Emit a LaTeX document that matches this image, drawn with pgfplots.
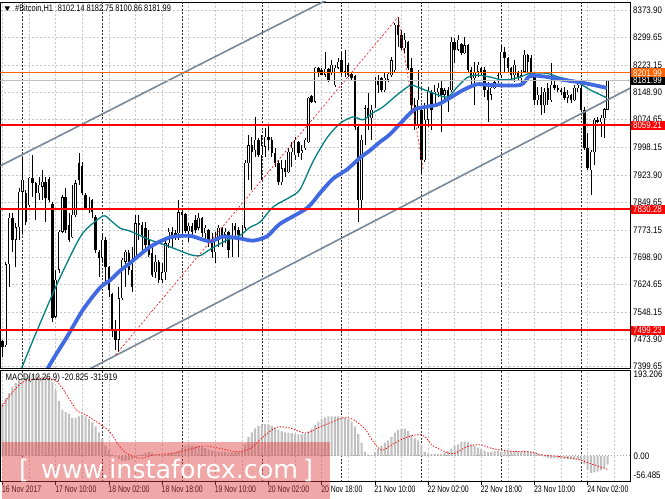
\documentclass[border=0pt]{standalone}
\usepackage{fontspec}
\setmainfont{Liberation Sans}
\newfontfamily\ttlfont[FakeStretch=0.78]{Liberation Sans}
\newfontfamily\macfont[FakeStretch=0.825]{Liberation Sans}
\newfontfamily\mtfont[FakeStretch=0.84]{Liberation Sans}
\newfontfamily\dtfont[FakeStretch=0.73]{Liberation Sans}
\newfontfamily\wmfont{DejaVu Sans}
\usepackage{pgfplots}
\usepackage{pgfplotstable}
\pgfplotsset{compat=1.18}
\definecolor{mtteal}{RGB}{0,128,128}
\definecolor{mtblue}{RGB}{65,105,225}
\definecolor{mtslate}{RGB}{119,136,153}
\definecolor{mtorange}{RGB}{255,99,0}
\definecolor{mtsilver}{RGB}{192,192,192}
\definecolor{mtpink}{RGB}{220,60,60}

\pgfplotstableread{
h o hi lo c
-6 7470 7473 7426 7454
-5 7459 7686 7454 7680
-4 7680 7820 7617 7806
-3 7806 7820 7713 7746
-2 7746 7792 7672 7781
-1 7781 7888 7746 7877
0 7877 7970 7765 7910
1 7874 7882 7787 7795
2 7841 7918 7836 7915
3 7915 7978 7863 7901
4 7901 7904 7800 7874
5 7874 7918 7855 7896
6 7891 7937 7855 7904
7 7904 7918 7795 7860
8 7912 7918 7850 7855
9 7842 7850 7522 7533
10 7536 7664 7533 7637
11 7664 7773 7656 7768
12 7768 7869 7765 7863
13 7863 7888 7765 7773
14 7787 7820 7740 7746
15 7754 7896 7751 7814
16 7814 7910 7808 7901
17 7956 7983 7896 7910
18 7948 7959 7869 7874
19 7869 7874 7828 7833
20 7833 7863 7820 7855
21 7855 7858 7806 7822
22 7809 7814 7710 7718
23 7713 7718 7645 7697
24 7697 7765 7686 7746
25 7746 7754 7628 7672
26 7672 7675 7590 7609
27 7598 7601 7480 7500
28 7500 7527 7445 7473
29 7473 7617 7440 7587
30 7587 7697 7582 7691
31 7686 7718 7617 7713
32 7710 7718 7650 7664
33 7664 7727 7604 7617
34 7699 7814 7691 7792
35 7792 7814 7746 7787
36 7787 7795 7713 7760
37 7779 7795 7718 7732
38 7746 7773 7699 7705
39 7710 7727 7645 7650
40 7658 7705 7642 7686
41 7686 7691 7628 7637
42 7637 7683 7628 7658
43 7658 7746 7637 7737
44 7737 7779 7724 7768
45 7768 7781 7727 7757
46 7765 7773 7746 7751
47 7765 7855 7746 7822
48 7822 7828 7765 7814
49 7817 7820 7765 7770
50 7770 7792 7740 7784
51 7784 7792 7759 7768
52 7800 7814 7765 7773
53 7779 7820 7773 7806
54 7806 7809 7754 7765
55 7765 7787 7746 7779
56 7773 7776 7727 7737
57 7746 7765 7697 7713
58 7713 7768 7683 7751
59 7746 7787 7727 7779
60 7779 7781 7727 7760
61 7760 7779 7737 7768
62 7768 7771 7697 7718
63 7718 7792 7699 7784
64 7784 7792 7754 7773
65 7773 7781 7699 7760
66 7760 7787 7751 7779
67 7779 7964 7773 7956
68 7956 8032 7910 8005
69 8005 8027 7882 7986
70 7991 8082 7973 8019
71 8019 8024 7973 7978
72 7978 8032 7910 8005
73 8000 8052 7973 8027
74 8027 8060 7991 8019
75 8019 8027 7973 7983
76 7983 7997 7945 7956
77 7956 7964 7896 7904
78 7904 7964 7896 7942
79 7942 7964 7918 7931
80 7931 7997 7929 7986
81 7986 8013 7945 7997
82 7978 8027 7964 8019
83 8013 8016 7973 7983
84 7983 8005 7964 7991
85 7997 8024 7991 8019
86 8013 8136 8011 8134
87 8139 8142 8120 8123
88 8123 8218 8120 8216
89 8216 8218 8191 8205
90 8210 8216 8197 8197
91 8197 8259 8191 8213
92 8213 8216 8177 8183
93 8202 8237 8197 8224
94 8169 8224 8164 8216
95 8216 8243 8214 8232
96 8237 8259 8197 8205
97 8205 8265 8191 8224
98 8224 8229 8191 8197
99 8197 8202 8183 8188
100 8194 8196 8046 8054
101 8054 8060 7795 7855
102 7855 8033 7828 8019
103 8019 8114 8005 8106
104 8106 8147 8046 8079
105 8079 8114 8019 8101
106 8109 8191 8106 8183
107 8183 8196 8147 8169
108 8188 8191 8150 8155
109 8155 8205 8150 8188
110 8183 8202 8177 8199
111 8196 8246 8191 8237
112 8210 8338 8202 8333
113 8333 8355 8273 8306
114 8306 8319 8265 8270
115 8270 8311 8256 8292
116 8287 8290 8210 8216
117 8216 8243 8101 8114
118 8114 8134 8046 8060
119 8060 8210 8051 8128
120 8101 8106 7929 7964
121 7964 8120 7959 8074
122 8074 8164 8054 8150
123 8150 8155 8046 8101
124 8114 8169 8109 8150
125 8150 8175 8136 8161
126 8161 8183 8041 8142
127 8142 8161 8123 8155
128 8155 8164 8095 8134
129 8155 8300 8150 8287
130 8287 8297 8229 8265
131 8265 8306 8262 8292
132 8281 8284 8251 8256
133 8256 8300 8253 8278
134 8278 8281 8202 8210
135 8210 8218 8169 8188
136 8188 8232 8114 8205
137 8205 8232 8191 8224
138 8216 8218 8197 8205
139 8210 8218 8136 8155
140 8155 8177 8068 8128
141 8142 8169 8128 8161
142 8161 8183 8158 8177
143 8177 8205 8174 8196
144 8196 8278 8188 8259
145 8259 8273 8205 8243
146 8243 8246 8202 8216
147 8216 8219 8183 8196
148 8196 8237 8177 8224
149 8205 8208 8183 8188
150 8188 8210 8177 8196
151 8205 8265 8202 8251
152 8251 8255 8202 8232
153 8243 8251 8188 8196
154 8196 8202 8114 8128
155 8128 8164 8114 8142
156 8142 8164 8087 8114
157 8114 8161 8092 8150
158 8161 8175 8114 8128
159 8128 8229 8123 8169
160 8169 8183 8155 8161
161 8161 8169 8150 8155
162 8155 8161 8142 8150
163 8150 8164 8128 8134
164 8134 8155 8120 8142
165 8142 8145 8120 8128
166 8128 8169 8125 8161
167 8161 8175 8150 8169
168 8161 8169 8095 8101
169 8101 8109 7992 7997
170 7997 8038 7937 7942
171 7937 7992 7869 7986
172 7986 8079 7951 8074
173 8074 8082 8065 8068
174 8068 8087 8027 8079
175 8079 8106 8024 8102.14
176 8102.14 8182.75 8100.86 8181.99
}\candles

\pgfplotstableread{
h p
-2 7330
-0.2 7396
8.3 7582
13.4 7683
18.2 7765
24.2 7811
26.4 7800
29.4 7778
32.4 7770
38.4 7746
44.4 7727
50.4 7706
53.4 7703
56.4 7720
61.4 7745
65.4 7758
68.4 7780
71.5 7795
75.4 7836
80.5 7863
83.5 7884
87.4 7960
91.6 8025
95.5 8064
99.4 8082
102.4 8074
105.4 8093
108.4 8109
112.7 8142
116.6 8168
118.7 8164
122.6 8150
127.7 8136
130.7 8163
133.7 8189
136.7 8196
140.6 8191
143.6 8184
146.6 8184
149.7 8191
152.7 8201
157.8 8201
160.8 8192
166.8 8177
170.7 8156
175.8 8134
}\mafast

\pgfplotstableread{
h p
5 7330
7.7 7396
13.4 7481
18.2 7555
23.3 7615
26.4 7636
29.4 7662
32.4 7683
38.4 7727
44.4 7753
50.4 7757
56.4 7742
60.3 7755
65.4 7750
69.4 7744
73.6 7756
77.5 7790
85.6 7833
89.5 7874
93.4 7913
97.6 7938
101.5 7970
104.5 7990
107.6 8014
110.6 8035
116.6 8092
118.7 8105
124.7 8115
128.6 8134
132.5 8155
136.7 8171
140.6 8169
149.7 8169
152.7 8194
157.8 8191
162.6 8183
168.6 8175
175.8 8161
}\maslow

\pgfplotstableread{
h m
-6 124
-5 135
-4 147
-3 162
-2 171
-1 177
0 183
1 186
2 188
3 189
4 189
5 188
6 186
7 185
8 181
9 173
10 154
11 128
12 108
13 102
14 99
15 89
16 89
17 92
18 95
19 92
20 86
21 78
22 69
23 55
24 40
25 24
26 13
27 3
28 -2
29 -8
30 -12
31 -12
32 -10
33 -8
34 -2
35 1.5
36 3
37 7
38 9
39 7
40 3
41 1.5
42 1.5
43 4
44 5
45 7
46 8
47 11
48 17
49 23
50 24
51 24
52 24
53 23
54 21
55 18
56 15
57 12
58 11
59 9
60 9
61 9
62 8
63 8
64 9
65 9
66 11
67 26
68 44
69 55
70 64
71 70
72 73
73 74
74 73
75 70
76 66
77 61
78 57
79 55
80 54
81 53
82 51
83 50
84 50
85 51
86 57
87 63
88 72
89 80
90 86
91 90
92 92
93 92
94 92
95 92
96 92
97 89
98 86
99 80
100 69
101 51
102 31
103 9
104 3
105 1.5
106 9
107 17
108 23
109 31
110 36
111 44
112 54
113 60
114 63
115 63
116 58
117 49
118 41
119 36
120 26
121 9
122 4.5
123 4
124 4
125 4.5
126 5
127 8
128 11
129 17
130 23
131 27
132 32
133 34
134 32
135 27
136 23
137 19
138 15
139 12
140 9
141 9
142 11
143 11
144 9
145 11
146 12
147 12
148 11
149 9
150 9
151 9
152 11
153 9
154 8
155 5
156 1.5
157 -2
158 -5
159 -6
160 -6
161 -6
162 -7
163 -8
164 -8
165 -8.5
166 -9
167 -8
168 -10
169 -20
170 -33
171 -40.5
172 -39
173 -37
174 -34
175 -29
176 -20.825
}\macdhist

\pgfplotstableread{
h s
-6.1 116
-0.4 170
6 181
9.8 177
12.4 154
16.2 108
18.8 97
22.6 78
26.4 55
29 24
31.5 5
35.4 -6
39.2 1.5
44.3 5
49.4 13
54.5 23
59.6 17
64.7 9
68.5 17
72.4 44
76.2 66
80 66
85.2 53
89 66
92.8 78
96.6 89
99.2 86
103 63
105.6 32
108.1 13
110.7 24
114.5 40
118.3 49
120.9 46
123.4 24
127.3 9
129.8 5
133.6 21
137.5 26
141.3 17
146.4 11
152.8 9
156.6 1.5
161.7 -2
166.8 -8
170.7 -18
176 -31.919
}\macdsig

\tikzset{
  mtgrid/.style={gray!45, line width=0.5bp, dash pattern=on 2bp off 2bp},
  mtsep/.style={black!80, line width=0.6bp, dash pattern=on 2bp off 1.5bp},
}

\begin{document}
\begin{tikzpicture}
\path[use as bounding box] (0,0) rectangle (665bp,499bp);

% ---------------- main price panel ----------------
\begin{axis}[
  at={(0.5bp,131bp)}, anchor=south west, scale only axis,
  width=629.5bp, height=366bp,
  xmin=-6.59, xmax=182.73, ymin=7396.2, ymax=8395.7,
  axis line style={black, line width=0.8bp},
  clip mode=individual,
  xtick={-6,10,...,170}, minor xtick={2,18,...,178}, xticklabels={},
  extra x ticks={0,24,...,168}, extra x tick labels={},
  extra x tick style={grid=major, major grid style={mtsep}},
  xmajorgrids, xminorgrids, ymajorgrids,
  major grid style={mtgrid}, minor grid style={mtgrid},
  major tick length=0pt, minor tick length=0pt,
  ytick={7399.65,7473.90,7548.15,7624.65,7698.90,7773.15,7849.65,7923.90,7998.15,8074.65,8148.90,8223.15,8299.65,8373.90},
  yticklabel pos=right,
  /pgf/number format/assume math mode=true,
  yticklabel={\pgfmathprintnumber[fixed,fixed zerofill,precision=2,1000 sep={}]{\tick}},
  yticklabel style={anchor=west, inner sep=0pt, xshift=3bp, font=\mtfont\fontsize{9.5}{10}\selectfont},
]
% candle wicks
\addplot[draw=none, mark=none, forget plot,
  error bars/.cd, y dir=plus, y explicit, error mark=none,
  error bar style={draw=black, line width=0.7bp}]
  table[x=h, y=lo, y error plus expr={\thisrow{hi}-\thisrow{lo}}] {\candles};
% candle bodies (outline / bear fill)
\addplot[draw=none, mark=none, forget plot,
  error bars/.cd, y dir=plus, y explicit, error mark=none,
  error bar style={draw=black, line width=2.4bp}]
  table[x=h, y expr={min(\thisrow{o},\thisrow{c})-0.8}, y error plus expr={abs(\thisrow{c}-\thisrow{o})+1.6}] {\candles};
% bull body interior
\addplot[draw=none, mark=none, forget plot,
  error bars/.cd, y dir=plus, y explicit, error mark=none,
  error bar style={draw=white, line width=0.9bp}]
  table[x=h, y expr={\thisrow{o}+1.2}, y error plus expr={(\thisrow{c}>\thisrow{o}+2.4) ? (\thisrow{c}-\thisrow{o}-2.4) : 0}] {\candles};
% moving averages
\addplot[mtteal, line width=1.3bp, smooth, tension=0.45, mark=none] table[x=h,y=p] {\mafast};
\addplot[mtblue, line width=3.8bp, smooth, tension=0.45, mark=none] table[x=h,y=p] {\maslow};
% channel lines
\addplot[mtslate, line width=1.6bp, mark=none] coordinates {(-7,7946.7) (95,8417.2)};
\addplot[mtslate, line width=1.6bp, mark=none] coordinates {(-7,7265.1) (184,8166.2)};
% red dashed trend lines
\addplot[red, line width=0.6bp, dash pattern=on 2bp off 2bp, mark=none] coordinates {(28,7432) (113,8355)};
\addplot[red, line width=0.6bp, dash pattern=on 2bp off 2bp, mark=none] coordinates {(113,8355) (120.6,7935)};
% levels
\addplot[mtsilver, line width=0.8bp, mark=none] coordinates {(-7,8181.99) (184,8181.99)};
\addplot[mtorange, line width=1bp, mark=none] coordinates {(-7,8201.99) (184,8201.99)};
\addplot[red, line width=1.6bp, mark=none] coordinates {(-7,8059.21) (184,8059.21)};
\addplot[red, line width=1.6bp, mark=none] coordinates {(-7,7830.28) (184,7830.28)};
\addplot[red, line width=1.6bp, mark=none] coordinates {(-7,7499.23) (184,7499.23)};
\coordinate (Lor) at (axis cs:182.73,8201.99);
\coordinate (Lbid) at (axis cs:182.73,8181.99);
\coordinate (La) at (axis cs:182.73,8059.21);
\coordinate (Lb) at (axis cs:182.73,7830.28);
\coordinate (Lc) at (axis cs:182.73,7499.23);
\end{axis}

% ---------------- MACD panel ----------------
\begin{axis}[
  at={(0.5bp,17.3bp)}, anchor=south west, scale only axis,
  width=629.5bp, height=111.7bp,
  xmin=-6.59, xmax=182.73, ymin=-60.7, ymax=200.9,
  axis line style={black, line width=0.8bp},
  clip mode=individual,
  ytick=\empty,
  xtick={-6,10,...,170}, minor xtick={2,18,...,178},
  xticklabels={16 Nov 2017, 17 Nov 10:00, 18 Nov 02:00, 18 Nov 18:00, 19 Nov 10:00, 20 Nov 02:00, 20 Nov 18:00, 21 Nov 10:00, 22 Nov 02:00, 22 Nov 18:00, 23 Nov 10:00, 24 Nov 02:00},
  xticklabel style={anchor=north west, inner sep=0pt, xshift=-0.6bp, yshift=-0.8bp, font=\dtfont\fontsize{9.5}{10}\selectfont},
  xtick pos=left, tick align=outside,
  major tick length=3bp, minor tick length=0pt,
  every tick/.style={black, line width=0.6bp},
  extra x ticks={0,24,...,168}, extra x tick labels={},
  extra x tick style={grid=major, major tick length=0pt, major grid style={mtsep}},
  xmajorgrids, xminorgrids,
  major grid style={mtgrid}, minor grid style={mtgrid},
]
\addplot[ybar, bar width=2.1bp, bar shift=0pt, fill=mtsilver, draw=none] table[x=h,y=m] {\macdhist};
\addplot[gray!70, line width=0.6bp, dash pattern=on 1bp off 2bp, mark=none] coordinates {(-7,0) (184,0)};
\addplot[red, line width=0.8bp, dash pattern=on 1.3bp off 1.6bp, smooth, tension=0.5, mark=none] table[x=h,y=s] {\macdsig};
\end{axis}

% ---------------- labels ----------------
\tikzset{lbl/.style={anchor=west, inner sep=0pt, minimum width=34bp, minimum height=9bp, text=white, font=\mtfont\fontsize{9.5}{10}\selectfont}}
\node[lbl, fill=black] at ([xshift=0.3bp]Lbid) {8181.99};
\node[lbl, fill=mtorange] at ([xshift=0.3bp]Lor) {8201.99};
\node[lbl, fill=red] at ([xshift=0.3bp]La) {8059.21};
\node[lbl, fill=red] at ([xshift=0.3bp]Lb) {7830.28};
\node[lbl, fill=red] at ([xshift=0.3bp]Lc) {7499.23};

\node[anchor=west, inner sep=0pt, font=\mtfont\fontsize{9.5}{10}\selectfont] at (633.5bp,125bp) {193.206};
\node[anchor=west, inner sep=0pt, font=\mtfont\fontsize{9.5}{10}\selectfont] at (633.5bp,43bp) {0.00};
\node[anchor=west, inner sep=0pt, font=\mtfont\fontsize{9.5}{10}\selectfont] at (633.5bp,24bp) {-56.485};

% title
\fill[black] (4.5bp,492.5bp) -- (10bp,492.5bp) -- (7.25bp,488bp) -- cycle;
\node[anchor=west, inner sep=0pt, font=\ttlfont\fontsize{9.5}{10}\selectfont] at (15bp,490bp) {\#Bitcoin,H1\hspace{3bp} 8102.14 8182.75 8100.86 8181.99};
\node[anchor=west, inner sep=0pt, font=\macfont\fontsize{9.5}{10}\selectfont] at (5.5bp,121bp) {MACD(12,26,9) -20.825 -31.919};

% watermark
\fill[mtpink, fill opacity=0.45] (2bp,0bp) rectangle (330bp,57.3bp);
\node[anchor=base west, inner sep=0pt, text=white, font=\wmfont\fontsize{25.5}{25.5}\selectfont] at (19bp,21bp) {[};
\node[anchor=base west, inner sep=0pt, text=white, font=\wmfont\fontsize{25.5}{25.5}\selectfont] at (41bp,21bp) {www.instaforex.com};
\node[anchor=base west, inner sep=0pt, text=white, font=\wmfont\fontsize{25.5}{25.5}\selectfont] at (303bp,21bp) {]};
\end{tikzpicture}
\end{document}
